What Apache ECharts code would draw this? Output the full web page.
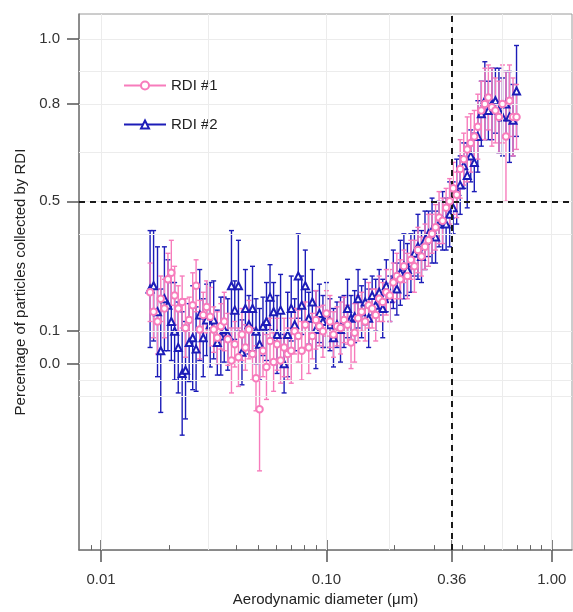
<!DOCTYPE html>
<html>
<head>
<meta charset="utf-8">
<script src="https://cdn.jsdelivr.net/npm/echarts@6/dist/echarts.min.js"></script>
<style>html,body{margin:0;padding:0;background:#fff}#c{width:573px;height:612px}</style>
</head>
<body>
<div id="c"></div>
<script>
// Aerodynamic diameter (µm) of each size channel
const diameter = [0.0165,0.0171,0.0178,0.0184,0.0191,0.0198,0.0205,0.0212,0.0220,0.0229,
0.0237,0.0246,0.0255,0.0264,0.0274,0.0284,0.0294,0.0305,0.0316,0.0328,
0.0340,0.0352,0.0365,0.0379,0.0392,0.0407,0.0422,0.0437,0.0453,0.0470,
0.0487,0.0505,0.0523,0.0542,0.0562,0.0583,0.0604,0.0626,0.0649,0.0673,
0.0698,0.0723,0.0750,0.0777,0.0806,0.0835,0.0866,0.0898,0.0931,0.0965,
0.1000,0.1037,0.1075,0.1114,0.1155,0.1197,0.1241,0.1286,0.1334,0.1382,
0.1433,0.1486,0.1540,0.1596,0.1655,0.1715,0.1778,0.1844,0.1911,0.1981,
0.2054,0.2129,0.2207,0.2288,0.2371,0.2458,0.2548,0.2642,0.2738,0.2839,
0.2943,0.3051,0.3162,0.3278,0.3398,0.3523,0.3652,0.3786,0.3924,0.4068,
0.4217,0.4371,0.4532,0.4698,0.4870,0.5048,0.5233,0.5425,0.5623,0.5829,
0.6043,0.6264,0.6494,0.6732,0.6978];

// RDI #1 collected fraction and its error
const rdi1 = [0.22,0.16,0.13,0.20,0.17,0.26,0.28,0.21,0.17,0.19,
0.11,0.135,0.18,0.24,0.105,0.15,0.175,0.145,0.105,0.08,
0.115,0.13,0.075,0.01,0.06,0.02,0.09,0.05,0.105,0.03,
-0.045,-0.14,0.04,-0.01,0.07,0.005,0.06,0.01,0.05,0.03,
0.04,0.10,0.085,0.04,0.12,0.05,0.085,0.135,0.115,0.10,
0.155,0.13,0.09,0.115,0.11,0.135,0.12,0.065,0.095,0.14,
0.16,0.13,0.18,0.17,0.15,0.20,0.19,0.22,0.21,0.25,
0.27,0.26,0.30,0.27,0.32,0.30,0.35,0.33,0.36,0.38,
0.40,0.42,0.45,0.44,0.48,0.50,0.54,0.52,0.60,0.63,
0.66,0.68,0.70,0.73,0.78,0.80,0.82,0.79,0.78,0.76,
0.80,0.70,0.81,0.76,0.76];
const rdi1Err = [0.09,0.08,0.10,0.07,0.09,0.08,0.10,0.09,0.07,0.08,
0.09,0.07,0.10,0.08,0.09,0.07,0.08,0.09,0.07,0.08,
0.07,0.09,0.08,0.10,0.07,0.09,0.08,0.07,0.09,0.08,
0.10,0.19,0.08,0.10,0.07,0.09,0.08,0.07,0.09,0.08,
0.10,0.07,0.08,0.09,0.07,0.08,0.07,0.09,0.06,0.08,
0.07,0.08,0.07,0.06,0.08,0.07,0.06,0.08,0.09,0.07,
0.06,0.06,0.07,0.06,0.08,0.07,0.06,0.07,0.08,0.06,
0.07,0.06,0.05,0.07,0.06,0.08,0.07,0.06,0.07,0.08,
0.06,0.07,0.08,0.07,0.06,0.07,0.08,0.07,0.09,0.08,
0.10,0.09,0.08,0.10,0.09,0.11,0.10,0.12,0.10,0.11,
0.12,0.20,0.11,0.12,0.10];

// RDI #2 collected fraction and its error
const rdi2 = [0.23,0.24,0.16,0.04,0.20,0.18,0.13,0.10,0.05,-0.03,
-0.02,0.065,0.08,0.045,0.15,0.08,0.135,0.12,0.135,0.065,
0.085,0.105,0.09,0.24,0.165,0.24,0.035,0.17,0.12,0.17,
0.10,0.06,0.115,0.13,0.205,0.16,0.09,0.165,0.00,0.09,
0.17,0.12,0.27,0.18,0.24,0.14,0.19,0.105,0.155,0.13,
0.15,0.12,0.08,0.12,0.105,0.13,0.17,0.14,0.145,0.20,
0.16,0.19,0.14,0.21,0.18,0.22,0.17,0.24,0.20,0.26,
0.23,0.28,0.30,0.29,0.31,0.34,0.36,0.33,0.38,0.40,
0.41,0.39,0.43,0.44,0.43,0.46,0.48,0.53,0.55,0.61,
0.58,0.64,0.62,0.70,0.77,0.81,0.78,0.80,0.81,0.78,
0.76,0.80,0.76,0.75,0.84];
const rdi2Err = [0.18,0.17,0.20,0.19,0.16,0.14,0.12,0.15,0.14,0.19,
0.15,0.12,0.16,0.13,0.14,0.12,0.11,0.13,0.12,0.10,
0.12,0.10,0.11,0.17,0.09,0.14,0.10,0.12,0.09,0.13,
0.10,0.11,0.09,0.12,0.10,0.09,0.12,0.11,0.09,0.13,
0.10,0.08,0.13,0.09,0.11,0.08,0.10,0.12,0.09,0.08,
0.10,0.08,0.09,0.07,0.10,0.08,0.09,0.07,0.08,0.09,
0.08,0.07,0.09,0.06,0.08,0.07,0.09,0.08,0.07,0.09,
0.08,0.10,0.10,0.08,0.09,0.07,0.10,0.08,0.09,0.07,
0.10,0.08,0.07,0.09,0.08,0.10,0.08,0.10,0.09,0.07,
0.10,0.08,0.09,0.11,0.10,0.12,0.09,0.11,0.10,0.13,
0.12,0.10,0.14,0.11,0.14];

const seriesNames = ['RDI #1', 'RDI #2'];
const xTickLabels = [0.01, 0.10, 0.36, 1.00];
const xMinorTicks = [0.009,0.02,0.03,0.04,0.05,0.06,0.07,0.08,0.09,0.2,0.3,0.4,0.5,0.6,0.7,0.8,0.9];
const xGridValues = [0.01, 0.0316, 0.1, 0.19, 0.36, 0.6, 1.0];
const yTickLabels = [0.0, 0.1, 0.5, 0.8, 1.0];
const yGridValues = [1.0, 0.9, 0.8, 0.65, 0.5, 0.4, 0.1, 0.0, -0.05, -0.1];
const cutDiameter = 0.36;
const cutFraction = 0.5;

const PINK = '#f77cbc';
const BLUE = '#1c1cb8';
const FONT = 'Liberation Sans, Arial, sans-serif';

function errRender(color, width, cap) {
  return function (params, api) {
    const x = api.value(0), y = api.value(1), e = api.value(2);
    const top = api.coord([x, y + e]);
    const bot = api.coord([x, y - e]);
    const st = { stroke: color, lineWidth: width };
    return {
      type: 'group',
      children: [
        { type: 'line', shape: { x1: top[0], y1: top[1], x2: bot[0], y2: bot[1] }, style: st },
        { type: 'line', shape: { x1: top[0] - cap, y1: top[1], x2: top[0] + cap, y2: top[1] }, style: st },
        { type: 'line', shape: { x1: bot[0] - cap, y1: bot[1], x2: bot[0] + cap, y2: bot[1] }, style: st }
      ]
    };
  };
}

const xMin = 0.00798, xMax = 1.23;
const baseX = { type: 'log', logBase: 10, min: xMin, max: xMax, position: 'bottom', gridIndex: 0, splitLine: { show: false } };

const chart = echarts.init(document.getElementById('c'), null, { renderer: 'canvas' });
chart.setOption({
  animation: false,
  backgroundColor: '#fff',
  textStyle: { fontFamily: FONT },
  grid: { left: 79, right: 1, top: 14, bottom: 61, show: true, borderColor: '#9a9a9a', borderWidth: 1, backgroundColor: '#fff' },
  legend: {
    data: seriesNames,
    orient: 'vertical',
    left: 118, top: 73,
    itemWidth: 42, itemHeight: 10, itemGap: 24,
    textStyle: { fontSize: 15, color: '#222', fontFamily: FONT },
    lineStyle: { width: 2 }
  },
  xAxis: [
    Object.assign({}, baseX, {
      name: 'Aerodynamic diameter (\u03bcm)', nameLocation: 'middle', nameGap: 41,
      nameTextStyle: { fontSize: 15, color: '#222', fontFamily: FONT },
      axisLine: { show: true, onZero: false, lineStyle: { color: '#777', width: 1.5 } },
      axisTick: { show: true, inside: false, length: 12, customValues: xTickLabels, lineStyle: { color: '#555', width: 1.5 } },
      axisLabel: { show: true, margin: 22, fontSize: 15, color: '#333', fontFamily: FONT, customValues: xTickLabels, formatter: v => Number(v).toFixed(2) }
    }),
    Object.assign({}, baseX, {
      axisLine: { show: false, onZero: false },
      axisTick: { show: true, inside: true, length: 10, customValues: xTickLabels, lineStyle: { color: '#555', width: 1.5 } },
      axisLabel: { show: false }
    }),
    Object.assign({}, baseX, {
      axisLine: { show: false, onZero: false },
      axisTick: { show: true, inside: true, length: 5, customValues: xMinorTicks, lineStyle: { color: '#666', width: 1 } },
      axisLabel: { show: false }
    })
  ],
  yAxis: {
    type: 'value', min: -0.574, max: 1.077,
    name: 'Percentage of particles collected by RDI', nameLocation: 'middle', nameGap: 45,
    nameTextStyle: { fontSize: 15, color: '#222', fontFamily: FONT },
    axisLine: { show: true, onZero: false, lineStyle: { color: '#777', width: 1.5 } },
    axisTick: { show: true, inside: false, length: 12, customValues: yTickLabels, lineStyle: { color: '#555', width: 1.5 } },
    axisLabel: { show: true, margin: 19, fontSize: 15, color: '#333', fontFamily: FONT, customValues: yTickLabels, formatter: v => Number(v).toFixed(1) },
    splitLine: { show: false }
  },
  series: [
    {
      name: 'grid', type: 'line', data: [], z: 0, silent: true,
      markLine: {
        silent: true, symbol: 'none', label: { show: false }, animation: false,
        lineStyle: { color: '#ececec', width: 1, type: 'solid' },
        data: xGridValues.map(v => ({ xAxis: v })).concat(yGridValues.map(v => ({ yAxis: v })))
      }
    },
    {
      name: 'err2', type: 'custom', z: 2, silent: true,
      data: diameter.map((d, i) => [d, rdi2[i], rdi2Err[i]]),
      encode: { x: 0, y: 1 },
      renderItem: errRender(BLUE, 1.4, 2.5)
    },
    {
      name: 'err1', type: 'custom', z: 3, silent: true,
      data: diameter.map((d, i) => [d, rdi1[i], rdi1Err[i]]),
      encode: { x: 0, y: 1 },
      renderItem: errRender(PINK, 1.4, 2.5)
    },
    {
      name: seriesNames[1], type: 'line', z: 4,
      data: diameter.map((d, i) => [d, rdi2[i]]),
      showAllSymbol: true, symbol: 'emptyTriangle', symbolSize: 7,
      itemStyle: { color: BLUE, borderColor: BLUE, borderWidth: 1.4 },
      lineStyle: { width: 0, color: BLUE }
    },
    {
      name: seriesNames[0], type: 'line', z: 5,
      data: diameter.map((d, i) => [d, rdi1[i]]),
      showAllSymbol: true, symbol: 'emptyCircle', symbolSize: 6.5,
      itemStyle: { color: PINK, borderColor: PINK, borderWidth: 1.3 },
      lineStyle: { width: 0, color: PINK }
    },
    {
      name: 'cut', type: 'line', data: [], z: 6, silent: true,
      markLine: {
        silent: true, symbol: 'none', label: { show: false }, animation: false,
        lineStyle: { color: '#1a1a1a', width: 2, type: [6, 5] },
        data: [{ xAxis: cutDiameter }, { yAxis: cutFraction }]
      }
    }
  ]
});
</script>
</body>
</html>
